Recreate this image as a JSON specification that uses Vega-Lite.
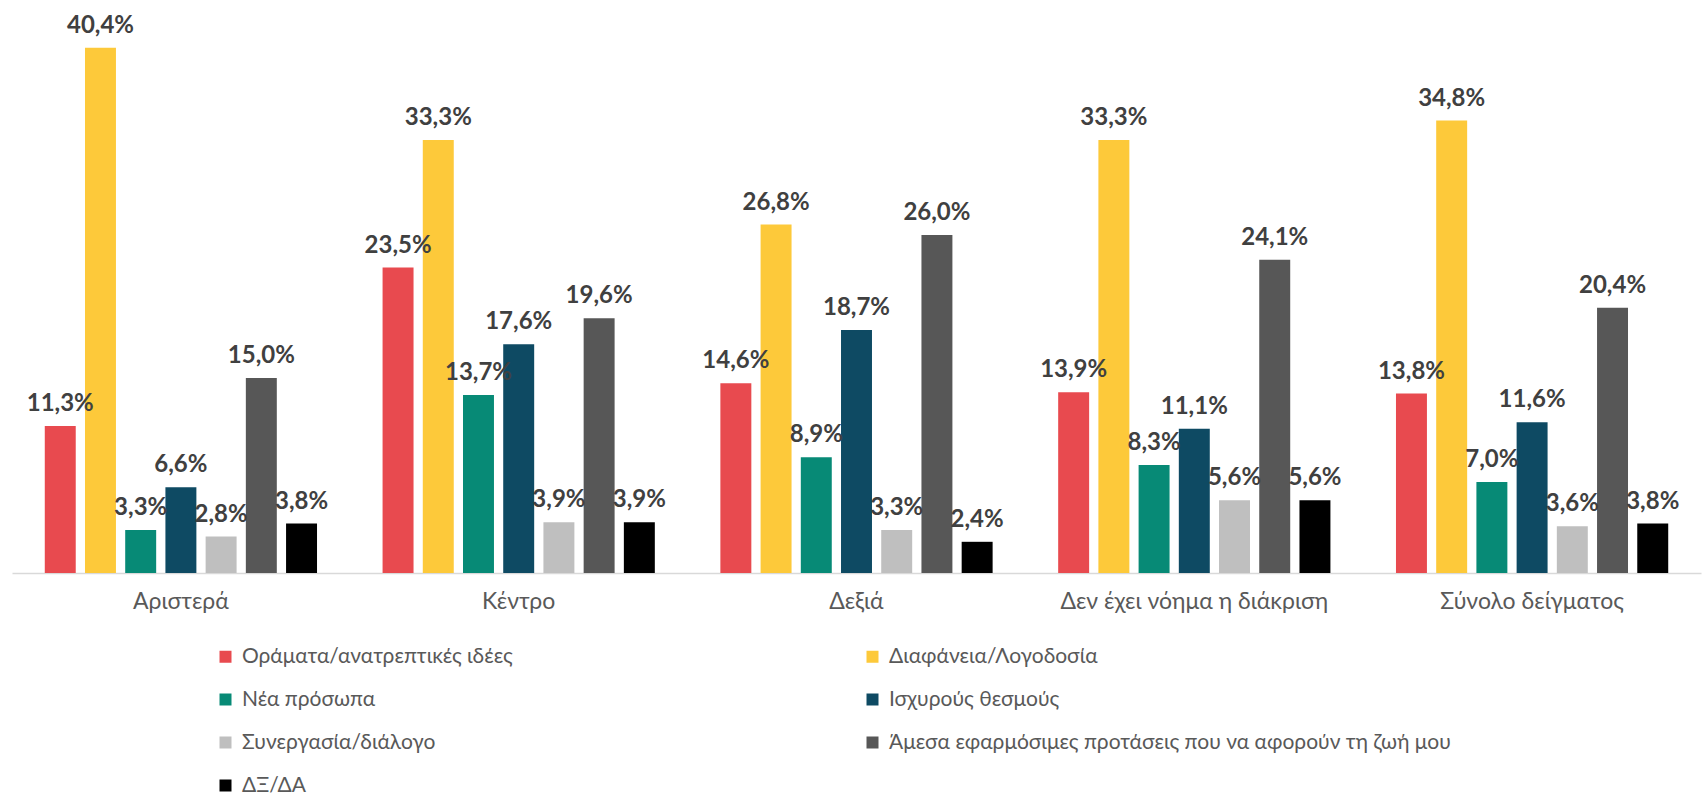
{
  "$schema": "https://vega.github.io/schema/vega-lite/v6.json",
  "width": 1689,
  "height": 572,
  "padding": {"left": 12, "top": 1, "right": 3, "bottom": 0},
  "background": "white",
  "data": {
    "values": [
      {"group": "Αριστερά", "series": "Οράματα/ανατρεπτικές ιδέες", "value": 11.3},
      {"group": "Αριστερά", "series": "Διαφάνεια/Λογοδοσία", "value": 40.4},
      {"group": "Αριστερά", "series": "Νέα πρόσωπα", "value": 3.3},
      {"group": "Αριστερά", "series": "Ισχυρούς θεσμούς", "value": 6.6},
      {"group": "Αριστερά", "series": "Συνεργασία/διάλογο", "value": 2.8},
      {"group": "Αριστερά", "series": "Άμεσα εφαρμόσιμες προτάσεις που να αφορούν τη ζωή μου", "value": 15.0},
      {"group": "Αριστερά", "series": "ΔΞ/ΔΑ", "value": 3.8},
      {"group": "Κέντρο", "series": "Οράματα/ανατρεπτικές ιδέες", "value": 23.5},
      {"group": "Κέντρο", "series": "Διαφάνεια/Λογοδοσία", "value": 33.3},
      {"group": "Κέντρο", "series": "Νέα πρόσωπα", "value": 13.7},
      {"group": "Κέντρο", "series": "Ισχυρούς θεσμούς", "value": 17.6},
      {"group": "Κέντρο", "series": "Συνεργασία/διάλογο", "value": 3.9},
      {"group": "Κέντρο", "series": "Άμεσα εφαρμόσιμες προτάσεις που να αφορούν τη ζωή μου", "value": 19.6},
      {"group": "Κέντρο", "series": "ΔΞ/ΔΑ", "value": 3.9},
      {"group": "Δεξιά", "series": "Οράματα/ανατρεπτικές ιδέες", "value": 14.6},
      {"group": "Δεξιά", "series": "Διαφάνεια/Λογοδοσία", "value": 26.8},
      {"group": "Δεξιά", "series": "Νέα πρόσωπα", "value": 8.9},
      {"group": "Δεξιά", "series": "Ισχυρούς θεσμούς", "value": 18.7},
      {"group": "Δεξιά", "series": "Συνεργασία/διάλογο", "value": 3.3},
      {"group": "Δεξιά", "series": "Άμεσα εφαρμόσιμες προτάσεις που να αφορούν τη ζωή μου", "value": 26.0},
      {"group": "Δεξιά", "series": "ΔΞ/ΔΑ", "value": 2.4},
      {"group": "Δεν έχει νόημα η διάκριση", "series": "Οράματα/ανατρεπτικές ιδέες", "value": 13.9},
      {"group": "Δεν έχει νόημα η διάκριση", "series": "Διαφάνεια/Λογοδοσία", "value": 33.3},
      {"group": "Δεν έχει νόημα η διάκριση", "series": "Νέα πρόσωπα", "value": 8.3},
      {"group": "Δεν έχει νόημα η διάκριση", "series": "Ισχυρούς θεσμούς", "value": 11.1},
      {"group": "Δεν έχει νόημα η διάκριση", "series": "Συνεργασία/διάλογο", "value": 5.6},
      {"group": "Δεν έχει νόημα η διάκριση", "series": "Άμεσα εφαρμόσιμες προτάσεις που να αφορούν τη ζωή μου", "value": 24.1},
      {"group": "Δεν έχει νόημα η διάκριση", "series": "ΔΞ/ΔΑ", "value": 5.6},
      {"group": "Σύνολο δείγματος", "series": "Οράματα/ανατρεπτικές ιδέες", "value": 13.8},
      {"group": "Σύνολο δείγματος", "series": "Διαφάνεια/Λογοδοσία", "value": 34.8},
      {"group": "Σύνολο δείγματος", "series": "Νέα πρόσωπα", "value": 7.0},
      {"group": "Σύνολο δείγματος", "series": "Ισχυρούς θεσμούς", "value": 11.6},
      {"group": "Σύνολο δείγματος", "series": "Συνεργασία/διάλογο", "value": 3.6},
      {"group": "Σύνολο δείγματος", "series": "Άμεσα εφαρμόσιμες προτάσεις που να αφορούν τη ζωή μου", "value": 20.4},
      {"group": "Σύνολο δείγματος", "series": "ΔΞ/ΔΑ", "value": 3.8}
    ]
  },
  "transform": [
    {"calculate": "replace(format(datum.value, '.1f'), '.', ',') + '%'", "as": "label"}
  ],
  "encoding": {
    "x": {
      "field": "group",
      "type": "nominal",
      "sort": ["Αριστερά", "Κέντρο", "Δεξιά", "Δεν έχει νόημα η διάκριση", "Σύνολο δείγματος"],
      "scale": {"paddingInner": 0, "paddingOuter": 0},
      "axis": {
        "title": null,
        "labelAngle": 0,
        "ticks": false,
        "domainColor": "#d9d9d9",
        "domainWidth": 1.5,
        "labelFont": "Lato",
        "labelFontSize": 23,
        "labelColor": "#595959",
        "labelPadding": 17,
        "labelLimit": 600,
        "grid": false
      }
    },
    "xOffset": {
      "field": "series",
      "type": "nominal",
      "sort": ["Οράματα/ανατρεπτικές ιδέες", "Διαφάνεια/Λογοδοσία", "Νέα πρόσωπα", "Ισχυρούς θεσμούς", "Συνεργασία/διάλογο", "Άμεσα εφαρμόσιμες προτάσεις που να αφορούν τη ζωή μου", "ΔΞ/ΔΑ"],
      "scale": {"paddingInner": 0.23, "paddingOuter": 0.815}
    },
    "y": {
      "field": "value",
      "type": "quantitative",
      "scale": {"domain": [0, 44], "nice": false},
      "axis": null
    }
  },
  "layer": [
    {
      "mark": {"type": "bar"},
      "encoding": {
        "color": {
          "field": "series",
          "type": "nominal",
          "scale": {
            "domain": ["Οράματα/ανατρεπτικές ιδέες", "Διαφάνεια/Λογοδοσία", "Νέα πρόσωπα", "Ισχυρούς θεσμούς", "Συνεργασία/διάλογο", "Άμεσα εφαρμόσιμες προτάσεις που να αφορούν τη ζωή μου", "ΔΞ/ΔΑ"],
            "range": ["#E84A4F", "#FDC93A", "#078A76", "#0E4A63", "#BFBFBF", "#575757", "#000000"]
          },
          "legend": {
            "title": null,
            "orient": "none",
            "legendX": 203,
            "legendY": 645,
            "direction": "horizontal",
            "columns": 2,
            "columnPadding": 349,
            "rowPadding": 21,
            "symbolType": "square",
            "symbolSize": 144,
            "symbolStrokeWidth": 0,
            "labelFont": "Lato",
            "labelFontSize": 21,
            "labelColor": "#595959",
            "labelOffset": 6,
            "labelLimit": 800,
            "padding": 0
          }
        }
      }
    },
    {
      "mark": {"type": "text", "font": "Lato", "fontWeight": "bold", "fontSize": 24, "color": "#404040", "baseline": "alphabetic", "dy": -15},
      "encoding": {
        "text": {"field": "label", "type": "nominal"}
      }
    }
  ],
  "config": {
    "view": {"stroke": null}
  }
}
